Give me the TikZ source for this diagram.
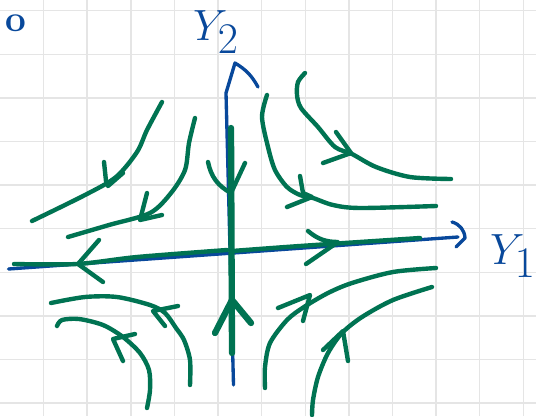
\documentclass[tikz,border=0pt]{standalone}
\usepackage{tikz}
\definecolor{inkblue}{RGB}{8,72,155}
\definecolor{inkgreen}{RGB}{0,115,82}

\begin{document}
\begin{tikzpicture}[
  x=0.02cm, y=-0.02cm,
  gridline/.style={draw=black!10, line width=0.8pt},
  axis/.style={draw=inkblue, line width=1.9pt, line cap=round, line join=round},
  flow/.style={draw=inkgreen, line width=2.5pt, line cap=round, line join=round},
  stable/.style={flow, line width=3.6pt},
  lbl/.style={text=inkblue, inner sep=0pt, font=\fontsize{34}{34}\selectfont}
]
  \fill[white] (0,0) rectangle (536,416);
  \useasboundingbox (0,0) rectangle (536,416);

  % grid paper
  \foreach \gx in {1,...,12}
    \draw[gridline] (43.6*\gx,0) -- (43.6*\gx,416);
  \foreach \gy in {0,...,9}
    \draw[gridline] (0,10.7+43.6*\gy) -- (536,10.7+43.6*\gy);

  % labels
  \node[lbl, font=\fontsize{21}{21}\selectfont\bfseries] (corner) at (16,23) {o};
  \node[lbl] (ytwo) at (216,32) {$Y_2$};
  \node[lbl] (yone) at (513,256) {$Y_1$};

  % axes
  \draw[axis] (233.5,385) -- (226,93) -- (235,63) to[bend left=15] (258,87);
  \draw[axis] (8.5,269) -- (458,237);
  \draw[axis] (452,222) to[bend left=35] (465,238) -- (456,247);

  % unstable direction (Y1)
  \draw[flow] plot[smooth] coordinates {(14,264) (77,264) (137,257) (227,250)};
  \draw[flow] (99,240) -- (78,264) -- (103,282);
  \draw[flow] plot[smooth] coordinates {(232,251) (300,246) (420,238)};
  \draw[flow] (308,231) to[bend right=20] (338,242) -- (306,264);

  % stable direction (Y2)
  \draw[stable] (231,128) -- (232,353);
  \draw[flow] (208,162) to[bend right=25] (231,193) -- (245,163);
  \draw[stable] (215,333) -- (232,300) -- (251,323);

  % upper left
  \draw[flow] plot[smooth] coordinates {(162,102) (147,130) (137,152) (116,177) (85,195) (32,221)};
  \draw[flow] (104,162) -- (106,181) -- (108,186) -- (123,173);
  \draw[flow] plot[smooth] coordinates {(195,118) (189,143) (185,170) (171,193) (150,213) (109,225) (68,237)};
  \draw[flow] (147,193) -- (140,220) -- (162,215);

  % upper right
  \draw[flow] plot[smooth] coordinates {(305,73) (298,82) (297,95) (301,108) (318,127) (335,147) (352,154) (376,167) (410,177) (451,179)};
  \draw[flow] (336,132) -- (351,153) -- (323,163);
  \draw[flow] plot[smooth] coordinates {(267,95) (262,117) (268,147) (275,170) (287,187) (300,195) (313,198) (333,205) (360,208) (436,206)};
  \draw[flow] (300,176) -- (303,193) -- (312,197) -- (287,207);

  % lower left
  \draw[flow] plot[smooth] coordinates {(190,385) (190,360) (184,340) (176,328) (165,313) (150,305) (117,297) (85,297) (51,303)};
  \draw[flow] (178,306) -- (153,311) -- (165,326);
  \draw[flow] plot[smooth] coordinates {(147,408) (150,390) (149,370) (140,353) (123,337) (103,325) (79,319) (62,320) (57,326)};
  \draw[flow] (135,334) -- (113,339) -- (123,361);

  % lower right
  \draw[flow] plot[smooth] coordinates {(265,388) (265,367) (270,343) (287,320) (304,307) (328,293) (352,283) (393,272) (436,268)};
  \draw[flow] (278,308) -- (310,295) -- (303,321);
  \draw[flow] plot[smooth] coordinates {(312,415) (313,400) (318,377) (328,353) (342,333) (362,317) (393,300) (432,287)};
  \draw[flow] (323,350) -- (343,331) -- (348,361);
\end{tikzpicture}
\end{document}
